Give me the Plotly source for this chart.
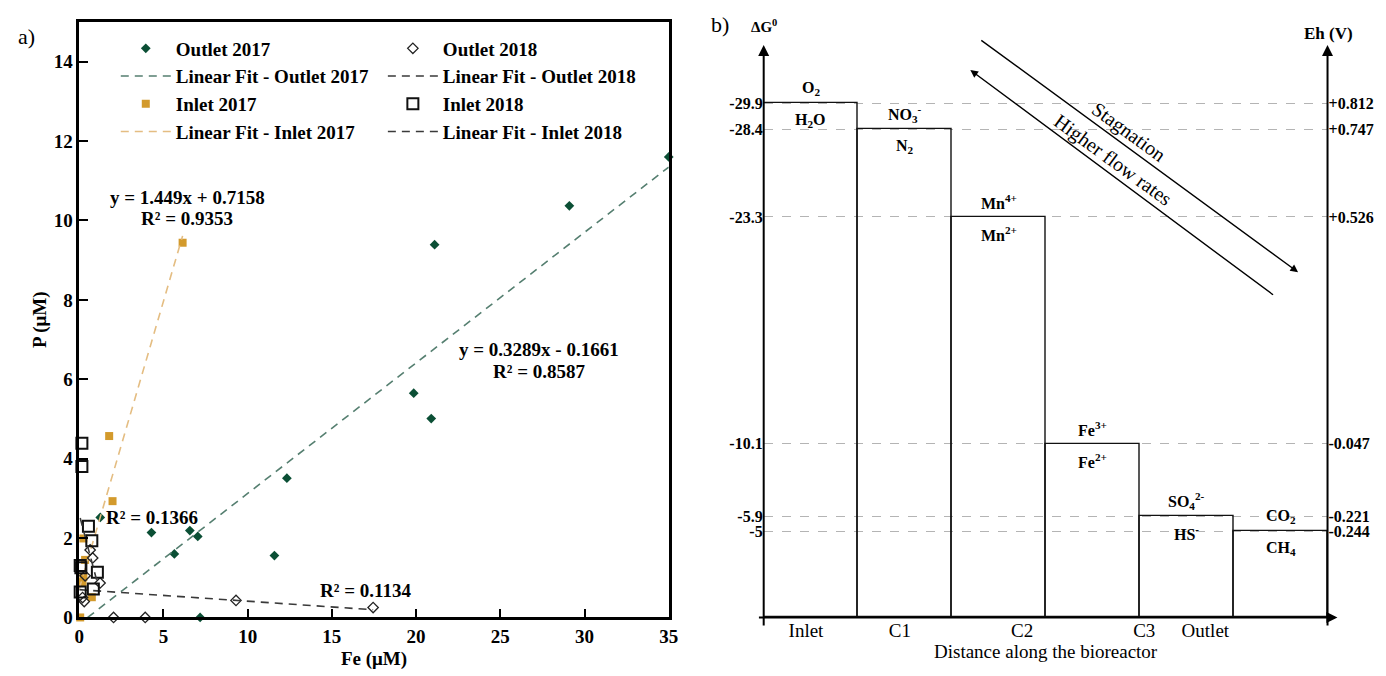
import numpy as np
import plotly.graph_objects as go

# ---------------- data: panel a ----------------
outlet17_fe = [35.0, 29.1, 21.1, 19.86, 20.9, 12.33, 11.59, 7.04, 6.57, 5.65, 4.29, 1.25, 7.18]
outlet17_p = [11.6, 10.37, 9.39, 5.65, 5.01, 3.51, 1.56, 2.04, 2.19, 1.60, 2.14, 2.52, 0.0]

outlet18_fe = [17.45, 9.31, 3.92, 2.04, 1.24, 0.8, 0.65, 0.35, 0.3, 0.2]
outlet18_p = [0.25, 0.43, 0.0, 0.0, 0.87, 1.5, 1.7, 1.05, 0.4, 0.5]

inlet17_fe = [6.14, 1.78, 1.98, 0.25, 0.35, 0.25, 0.2, 0.75, 0.06]
inlet17_p = [9.44, 4.57, 2.93, 1.99, 1.45, 1.02, 0.89, 0.51, 0.0]

inlet18_fe = [0.16, 0.16, 0.55, 0.75, 0.06, 0.1, 1.08, 0.84, 0.06]
inlet18_p = [4.39, 3.8, 2.3, 1.93, 1.31, 1.25, 1.14, 0.72, 0.64]

# linear fits: slope, intercept, x-range
fit_outlet17 = (0.3289, -0.1661, 0.505, 35.0)
fit_inlet17 = (1.449, 0.7158, 0.0, 6.14)
fit_outlet18 = (-0.029, 0.70, 0.0, 17.45)
fit_inlet18 = (-1.6, 2.6, 0.06, 1.08)

x_ticks_a = [0, 5, 10, 15, 20, 25, 30, 35]
y_ticks_a = [0, 2, 4, 6, 8, 10, 12, 14]

# ---------------- data: panel b ----------------
stage_labels = ["Inlet", "C1", "C2", "C3", "Outlet"]
stage_positions = [-0.05, 0.95, 2.25, 3.55, 4.2]
box_index = [0, 1, 2, 3, 4, 5]
delta_g = [-29.9, -28.4, -23.3, -10.1, -5.9, -5.0]
delta_g_text = ["-29.9", "-28.4", "-23.3", "-10.1", "-5.9", "-5"]
eh_text = ["+0.812", "+0.747", "+0.526", "-0.047", "-0.221", "-0.244"]
oxidized = ["O<sub>2</sub>", "NO<sub>3</sub><sup>-</sup>", "Mn<sup>4+</sup>",
            "Fe<sup>3+</sup>", "SO<sub>4</sub><sup>2-</sup>", "CO<sub>2</sub>"]
reduced = ["H<sub>2</sub>O", "N<sub>2</sub>", "Mn<sup>2+</sup>",
           "Fe<sup>2+</sup>", "HS<sup>-</sup>", "CH<sub>4</sub>"]

SERIF = "Liberation Serif"
W, H = 1386, 676
SY = 1 / 0.983   # vertical compensation
SX = 1 / 0.996   # horizontal compensation


def px(xp):
    return min(xp * SX, W) / W


def py(yp):
    return 1 - min(yp * SY, H) / H


fig = go.Figure()

GREEN = "#0b4f35"
GOLD = "#d39a2c"


def fit_trace(fit, name, color, legend):
    m, b, x0, x1 = fit
    xs = np.array([x0, x1])
    return go.Scatter(x=xs, y=m * xs + b, mode="lines", name=name,
                      line=dict(color=color, width=1.6, dash="8px,6px"),
                      xaxis="x", yaxis="y", legend=legend, cliponaxis=False)


# column 1 legend
fig.add_trace(go.Scatter(x=outlet17_fe, y=outlet17_p, mode="markers", name="Outlet 2017",
                         marker=dict(symbol="diamond", size=7.5, color=GREEN),
                         xaxis="x", yaxis="y", legend="legend", cliponaxis=False))
fig.add_trace(fit_trace(fit_outlet17, "Linear Fit - Outlet 2017", "#557f70", "legend"))
fig.add_trace(go.Scatter(x=inlet17_fe, y=inlet17_p, mode="markers", name="Inlet 2017",
                         marker=dict(symbol="square", size=8, color=GOLD),
                         xaxis="x", yaxis="y", legend="legend", cliponaxis=False))
fig.add_trace(fit_trace(fit_inlet17, "Linear Fit - Inlet 2017", "#e4bd82", "legend"))

# column 2 legend
fig.add_trace(go.Scatter(x=outlet18_fe, y=outlet18_p, mode="markers", name="Outlet 2018",
                         marker=dict(symbol="diamond-open", size=8, color="#222",
                                     line=dict(width=1.3, color="#222")),
                         xaxis="x", yaxis="y", legend="legend2", cliponaxis=False))
fig.add_trace(fit_trace(fit_outlet18, "Linear Fit - Outlet 2018", "#3a3a3a", "legend2"))
fig.add_trace(go.Scatter(x=inlet18_fe, y=inlet18_p, mode="markers", name="Inlet 2018",
                         marker=dict(symbol="square-open", size=11, color="#111",
                                     line=dict(width=2, color="#111")),
                         xaxis="x", yaxis="y", legend="legend2", cliponaxis=False))
fig.add_trace(fit_trace(fit_inlet18, "Linear Fit - Inlet 2018", "#3a3a3a", "legend2"))

# ---------------- panel b: step boxes ----------------
fig.add_trace(go.Bar(x=box_index, y=delta_g, base=0, width=1,
                     marker=dict(color="rgba(0,0,0,0)", line=dict(color="#111", width=1.4)),
                     xaxis="x2", yaxis="y2", showlegend=False, hoverinfo="skip"))
fig.add_trace(go.Scatter(x=box_index, y=delta_g, mode="markers", marker=dict(opacity=0),
                         xaxis="x2", yaxis="y3", showlegend=False, hoverinfo="skip"))

bold = dict(family=SERIF, size=19, color="black", weight="bold")

BOTTOM = 617 * SY
XL, XR = 767, 1337
fig.update_layout(
    width=W, height=H, margin=dict(l=0, r=0, t=0, b=0),
    paper_bgcolor="white", plot_bgcolor="white",
    font=dict(family=SERIF, color="black"),
    bargap=0,
    xaxis=dict(domain=[75 / W, 671 / W], range=[0, 35], tickvals=x_ticks_a,
               ticks="inside", ticklen=9, tickwidth=2.2, tickcolor="black",
               showline=True, linewidth=2.5, linecolor="black", mirror=True,
               showgrid=False, zeroline=False, tickfont=bold, anchor="y",
               title=dict(text="Fe (μM)", font=bold, standoff=6)),
    yaxis=dict(domain=[1 - BOTTOM / H, 1 - 22 * SY / H], range=[0, 15], tickvals=y_ticks_a,
               ticks="inside", ticklen=9, tickwidth=2.2, tickcolor="black",
               showline=True, linewidth=2.5, linecolor="black", mirror=True,
               showgrid=False, zeroline=False, tickfont=bold, anchor="x",
               title=dict(text="P (μM)", font=bold, standoff=2)),
    xaxis2=dict(domain=[XL / W, XR / W], range=[-0.5, 5.5], anchor="y2",
                tickvals=stage_positions, ticktext=stage_labels,
                tickfont=dict(family=SERIF, size=19, color="black"),
                showline=False, showgrid=False, zeroline=False, ticks="",
                title=dict(text="Distance along the bioreactor",
                           font=dict(family=SERIF, size=19, color="black"), standoff=3)),
    yaxis2=dict(domain=[1 - BOTTOM / H, 1 - 45 * SY / H], range=[0, -33.3], anchor="x2",
                tickvals=delta_g, ticktext=delta_g_text,
                tickfont=dict(family=SERIF, size=16, color="black", weight="bold"),
                showline=False, showgrid=True, gridcolor="#b4b4b4", griddash="dash",
                gridwidth=1.2, zeroline=False, ticks=""),
    yaxis3=dict(range=[0, -33.3], overlaying="y2", anchor="x2", side="right",
                tickvals=delta_g, ticktext=eh_text, ticklabelstandoff=0,
                tickfont=dict(family=SERIF, size=16, color="black", weight="bold"),
                showline=False, showgrid=False, zeroline=False, ticks=""),
    legend=dict(x=112 / W, y=1 - 30 / H, xanchor="left", yanchor="top",
                font=dict(family=SERIF, size=19, color="black", weight="bold"),
                itemwidth=50, bgcolor="rgba(0,0,0,0)", tracegroupgap=0),
    legend2=dict(x=382 / W, y=1 - 30 / H, xanchor="left", yanchor="top",
                 font=dict(family=SERIF, size=19, color="black", weight="bold"),
                 itemwidth=50, bgcolor="rgba(0,0,0,0)", tracegroupgap=0),
)

ann = []


def paper_text(text, xp, yp, font, angle=0):
    return dict(text=text, x=px(xp), y=py(yp), xref="paper", yref="paper",
                xanchor="center", yanchor="middle", showarrow=False,
                textangle=angle, font=font)


def paper_arrow(head, tail, width):
    hx, hy = head
    tx, ty = tail
    return dict(text="", x=px(hx), y=py(hy), xref="paper", yref="paper",
                ax=(tx - hx) * SX, ay=(ty - hy) * SY, showarrow=True,
                arrowhead=2, arrowsize=1.1, arrowwidth=width, arrowcolor="black")


# panel letters
ann.append(paper_text("a)", 22, 36, dict(family=SERIF, size=22)))
ann.append(paper_text("b)", 720, 24, dict(family=SERIF, size=22)))

# equations / R2 on panel a (data coordinates)
eq_font = dict(family=SERIF, size=19, color="black", weight="bold")
for txt, xv, yv in [("y = 1.449x + 0.7158", 6.41, 10.58), ("R² = 0.9353", 6.41, 10.05),
                    ("y = 0.3289x - 0.1661", 27.29, 6.74), ("R² = 0.8587", 27.29, 6.19),
                    ("R² = 0.1366", 4.35, 2.53), ("R² = 0.1134", 17.0, 0.68)]:
    ann.append(dict(text=txt, x=xv, y=yv, xref="x", yref="y", showarrow=False,
                    xanchor="center", yanchor="middle", font=eq_font))

# panel b: axis arrows (left, right, bottom)
for xa in (XL, XR):
    ann.append(dict(text="", x=xa / W, y=py(45), xref="paper", yref="paper",
                    ax=0, ay=BOTTOM - 45 * SY, showarrow=True, arrowhead=2, arrowsize=1.1,
                    arrowwidth=2, arrowcolor="black"))
ann.append(dict(text="", x=(XR + 10) / W, y=1 - BOTTOM / H, xref="paper", yref="paper",
                ax=-(XR + 10 - XL), ay=0, showarrow=True, arrowhead=2, arrowsize=1.1,
                arrowwidth=2, arrowcolor="black"))

# diagonal arrows
ann.append(paper_arrow((1302, 272), (985, 43), 1.4))
ann.append(paper_arrow((972, 70), (1275, 292), 1.4))
ann.append(paper_text("Stagnation", 1132, 132, dict(family=SERIF, size=20), 36))
ann.append(paper_text("Higher flow rates", 1116, 160, dict(family=SERIF, size=20), 36))

# axis captions
ann.append(paper_text("ΔG<sup>0</sup>", 764, 26, dict(family=SERIF, size=15, weight="bold")))
ann.append(paper_text("Eh (V)", 1333, 33, dict(family=SERIF, size=17, weight="bold")))

# box labels
box_font = dict(family=SERIF, size=16, color="black", weight="bold")
for i, v, top, bot in zip(box_index, delta_g, oxidized, reduced):
    ann.append(dict(text=top, x=i, y=v, xref="x2", yref="y2", showarrow=False,
                    xanchor="center", yanchor="middle", yshift=15, font=box_font))
    ann.append(dict(text=bot, x=i, y=v, xref="x2", yref="y2", showarrow=False,
                    xanchor="center", yanchor="middle", yshift=-17, font=box_font))

fig.update_layout(annotations=ann)

fig.write_html("out.html")
